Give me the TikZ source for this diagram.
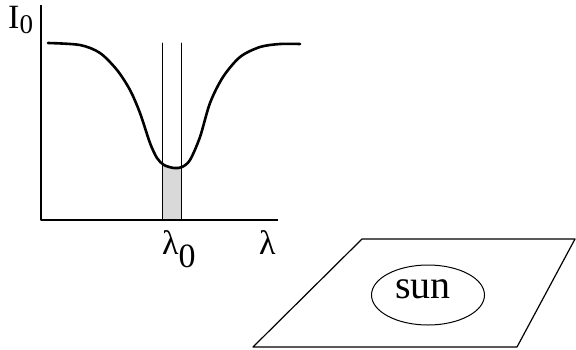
\documentclass[tikz,border=0pt]{standalone}
\usepackage{fontspec}
\setmainfont{Liberation Serif}
\usetikzlibrary{shapes.geometric}
\newcommand{\lowsub}[2]{\raisebox{-#1pt}{#2}}

\begin{document}
\begin{tikzpicture}[x=1pt,y=-1pt,line cap=round,line join=round,
  label text/.style={font=\fontsize{34}{34}\selectfont,inner sep=0pt}]
  \useasboundingbox (0,0) rectangle (576,349);
  \def\profile{(48,43) (80,45) (100,53) (117,70) (130,90) (140,113) (150,143) (157,158) (164,165) (174,168) (182,167) (190,160) (200,137) (210,103) (223,77) (240,57) (260,47) (280,44) (300,44)}
  % band under the line core
  \begin{scope}
    \clip plot[smooth] coordinates {\profile} -- (300,220) -- (48,220) -- cycle;
    \fill[gray!30] (162,43) rectangle (181,220);
  \end{scope}
  \draw[line width=0.9pt] (162,43) -- (162,220); \draw[line width=0.9pt] (181,43) -- (181,220);
  % axes and line profile
  \draw[line width=2.6pt,line cap=butt] (41,5) -- (41,220) -- (278,220);
  \draw[line width=2.6pt] plot[smooth] coordinates {\profile};
  \node[label text,anchor=base west] (Izero) at (8,28) {I\lowsub{5}{\fontsize{27}{27}\selectfont 0}};
  \node[label text,anchor=base west] (lamzero) at (162,254) {λ\lowsub{13}{0}};
  \node[label text,anchor=base west] (lam) at (259,254) {λ};
  % plane with the sun
  \coordinate (P1) at (362,239); \coordinate (P2) at (575,239);
  \coordinate (P3) at (517,347); \coordinate (P4) at (253,347);
  \draw[line width=1.2pt] (P1) -- (P2) -- (P3) -- (P4) -- cycle;
  \node[ellipse,draw,line width=1pt,minimum width=113pt,minimum height=60pt] (sunrim) at (428,295) {};
  \node[label text,font=\fontsize{40}{40}\selectfont] (sun) at (423,289) {sun};
\end{tikzpicture}
\end{document}
